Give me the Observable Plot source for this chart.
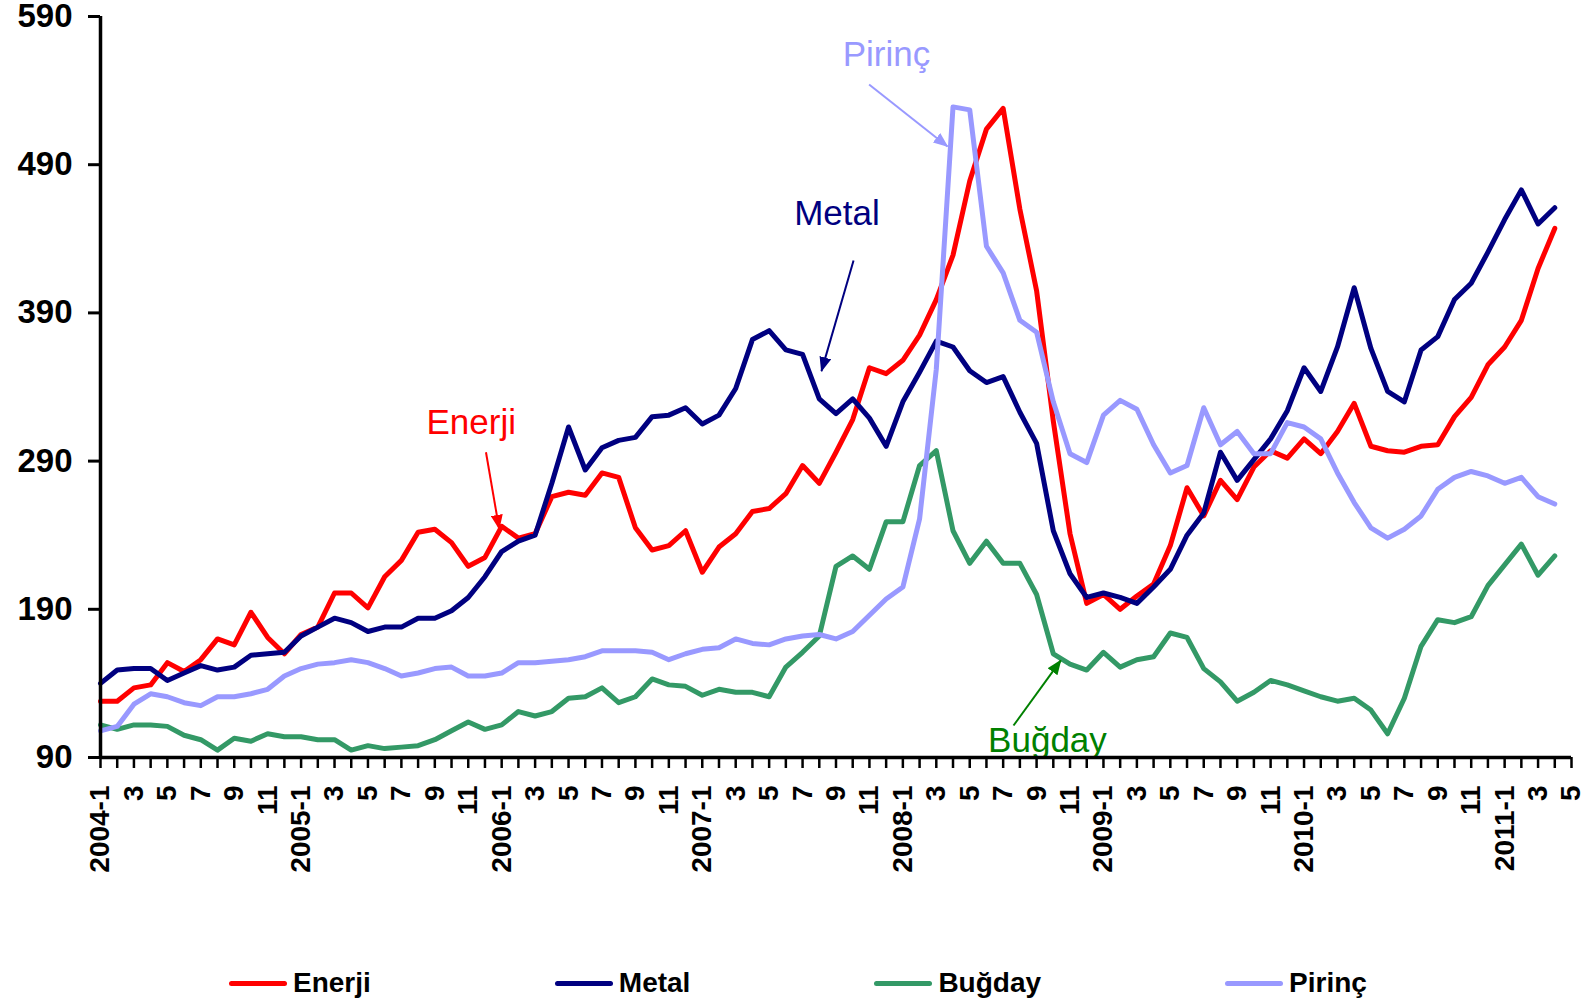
<!DOCTYPE html>
<html>
<head>
<meta charset="utf-8">
<script src="https://cdn.jsdelivr.net/npm/d3@7"></script>
<script src="https://cdn.jsdelivr.net/npm/@observablehq/plot@0.6"></script>
<style>
  html, body { margin: 0; padding: 0; background: #fff; }
  #wrap { position: relative; width: 1584px; height: 1004px; overflow: hidden; font-family: "Liberation Sans", Arial, sans-serif; }
  #chart { position: absolute; left: 0; top: 0; }
  #legend { position: absolute; left: 229px; top: 963px; height: 40px; display: flex; align-items: center; gap: 184px; }
  .item { display: flex; align-items: center; gap: 6px; }
  .swatch { width: 58px; height: 5px; border-radius: 3px; }
  .lbl { font-weight: bold; font-size: 28px; color: #000; line-height: 40px; }
</style>
</head>
<body>
<div id="wrap">
  <div id="chart"></div>
  <div id="legend"></div>
</div>
<script>
// ---- data (monthly, 2004-1 ... 2011-4), axis runs to 2011-5 ----
const tickLabels = [
  "2004-1","3","5","7","9","11",
  "2005-1","3","5","7","9","11",
  "2006-1","3","5","7","9","11",
  "2007-1","3","5","7","9","11",
  "2008-1","3","5","7","9","11",
  "2009-1","3","5","7","9","11",
  "2010-1","3","5","7","9","11",
  "2011-1","3","5"
];
const seriesNames = ["Enerji", "Metal", "Buğday", "Pirinç"];
const seriesColors = ["#FF0000", "#000080", "#339966", "#9999FF"];

const enerji = [128,128,137,139,154,148,156,170,166,188,171,160,
  173,178,201,201,191,212,223,242,244,235,219,225,
  246,238,241,266,269,267,282,279,245,230,233,243,
  215,232,241,256,258,268,287,275,296,318,353,349,
  358,375,399,429,479,514,528,460,405,317,241,194,
  200,190,199,207,233,272,253,277,264,286,297,292,
  305,295,310,329,300,297,296,300,301,320,333,355,
  367,385,420,447];
const metal = [140,149,150,150,142,147,152,149,151,159,160,161,
  172,178,184,181,175,178,178,184,184,189,198,212,
  229,236,240,275,313,284,299,304,306,320,321,326,
  315,321,339,372,378,365,362,332,322,332,319,300,
  330,350,371,367,351,343,347,323,302,243,214,198,
  201,198,194,205,217,240,255,296,277,291,305,324,
  353,337,367,407,366,337,330,365,374,399,410,431,
  453,473,450,461];
const bugday = [112,109,112,112,111,105,102,95,103,101,106,104,
  104,102,102,95,98,96,97,98,102,108,114,109,
  112,121,118,121,130,131,137,127,131,143,139,138,
  132,136,134,134,131,151,161,172,219,226,217,249,
  249,287,297,243,221,236,221,221,200,160,153,149,
  161,151,156,158,174,171,150,141,128,134,142,139,
  135,131,128,130,122,106,130,165,183,181,185,206,
  220,234,213,226];
const pirinc = [108,111,126,133,131,127,125,131,131,133,136,145,
  150,153,154,156,154,150,145,147,150,151,145,145,
  147,154,154,155,156,158,162,162,162,161,156,160,
  163,164,170,167,166,170,172,173,170,175,186,197,
  205,251,352,529,527,435,417,385,377,330,295,289,
  321,331,325,301,282,287,326,301,310,295,295,316,
  313,305,282,262,245,238,244,253,271,279,283,280,
  275,279,266,261];
const yTicks = [90, 190, 290, 390, 490, 590];

// annotation labels (anchors in month-index / value space)
const annoText = ["Enerji", "Metal", "Pirinç", "Buğday"];
const annoColor = ["#FF0000", "#000080", "#9999FF", "#008000"];
const annoAt = [[19.5, 308.4], [41.5, 449], [44.4, 556.5], [53.1, 93.4]];
const arrowFrom = [[23.06, 296], [45.05, 425.4], [45.98, 544.1], [54.62, 111.6]];
const arrowTo = [[23.85, 244.3], [43.13, 350.7], [50.67, 502.3], [57.45, 155.5]];

// ---- build ----
const nCats = tickLabels.length * 2 - 1; // 89 monthly categories
const allSeries = [enerji, metal, bugday, pirinc];
const rows = [];
allSeries.forEach((arr, s) => arr.forEach((v, i) => rows.push({series: seriesNames[s], i, v})));

function solidHead(color, context) {
  const doc = (context && context.document) || document;
  const ns = "http://www.w3.org/2000/svg";
  const m = doc.createElementNS(ns, "marker");
  m.setAttribute("viewBox", "0 -6 15 12");
  m.setAttribute("markerWidth", "15");
  m.setAttribute("markerHeight", "12");
  m.setAttribute("markerUnits", "userSpaceOnUse");
  m.setAttribute("refX", "14");
  m.setAttribute("refY", "0");
  m.setAttribute("orient", "auto");
  const p = doc.createElementNS(ns, "path");
  p.setAttribute("d", "M0,-6L15,0L0,6Z");
  p.setAttribute("fill", color);
  p.setAttribute("stroke", "none");
  m.appendChild(p);
  return m;
}

function build(useCustomMarker) {
  const marks = [];
  seriesNames.forEach((name, s) => {
    marks.push(Plot.line(rows.filter(d => d.series === name), {
      x: "i", y: "v", stroke: seriesColors[s], strokeWidth: 5,
      strokeLinejoin: "round", strokeLinecap: "round"
    }));
  });
  annoText.forEach((t, k) => {
    marks.push(Plot.link([k], {
      x1: () => arrowFrom[k][0], y1: () => arrowFrom[k][1],
      x2: () => arrowTo[k][0], y2: () => arrowTo[k][1],
      stroke: annoColor[k], strokeWidth: 2,
      markerEnd: useCustomMarker ? solidHead : "arrow"
    }));
    marks.push(Plot.text([k], {
      x: () => annoAt[k][0], y: () => annoAt[k][1], text: () => t,
      fill: annoColor[k], fontSize: 35, textAnchor: "start", lineAnchor: "bottom",
      fontFamily: "Liberation Sans, Arial, sans-serif"
    }));
  });
  marks.push(Plot.axisY(yTicks, {
    tickSize: 12, tickPadding: 16, strokeWidth: 3, fontSize: 33, fontWeight: "bold",
    tickFormat: d => String(d), label: null
  }));
  marks.push(Plot.axisX(d3.range(nCats), {
    tickSize: 11, tickPadding: 17, strokeWidth: 2.5, fontSize: 28, fontWeight: "bold",
    tickRotate: -90, tickFormat: i => (i % 2 === 0 ? tickLabels[i / 2] : ""), label: null
  }));
  marks.push(Plot.ruleX([0], {stroke: "#000", strokeWidth: 3.5}));
  marks.push(Plot.ruleY([90], {stroke: "#000", strokeWidth: 3.5}));

  return Plot.plot({
    width: 1584,
    height: 930,
    marginLeft: 100,
    marginRight: 13,
    marginTop: 16,
    marginBottom: 173,
    style: {fontFamily: "Liberation Sans, Arial, sans-serif", color: "#000", background: "#fff", overflow: "visible"},
    x: {type: "linear", domain: [0, nCats - 1]},
    y: {type: "linear", domain: [90, 590]},
    marks
  });
}

let svg;
try { svg = build(true); } catch (e) { svg = build(false); }
document.getElementById("chart").appendChild(svg);

// legend
const legend = document.getElementById("legend");
seriesNames.forEach((name, s) => {
  const it = document.createElement("div");
  it.className = "item";
  const sw = document.createElement("div");
  sw.className = "swatch";
  sw.style.background = seriesColors[s];
  const lb = document.createElement("span");
  lb.className = "lbl";
  lb.textContent = name;
  it.appendChild(sw); it.appendChild(lb);
  legend.appendChild(it);
});
</script>
</body>
</html>
